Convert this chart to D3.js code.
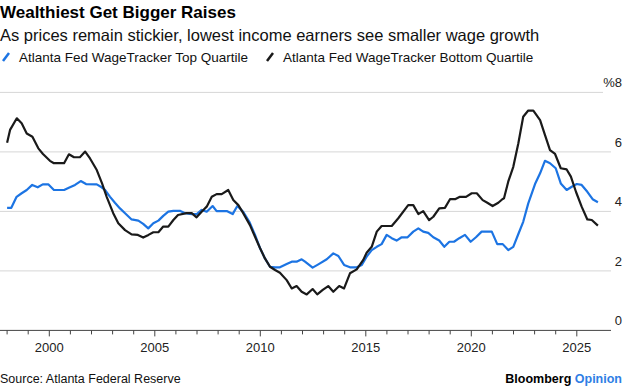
<!DOCTYPE html>
<html>
<head>
<meta charset="utf-8">
<script src="https://cdn.jsdelivr.net/npm/d3@7"></script>
<style>
    body { margin: 0; background: #fff; }
    svg { display: block; font-family: "Liberation Sans", Arial, sans-serif; }
</style>
</head>
<body>
<svg width="624" height="386"></svg>
<script>
// Atlanta Fed Wage Tracker (decimal years, %)
var topDates = [1998.0, 1998.2, 1998.45, 1998.69, 1998.93, 1999.19, 1999.45, 1999.69, 1999.95, 2000.22, 2000.7, 2000.98,
    2001.22, 2001.49, 2001.74, 2002.25, 2002.48, 2002.64, 2002.88, 2003.11, 2003.35, 2003.59, 2003.9, 2004.22, 2004.45,
    2004.69, 2004.93, 2005.17, 2005.4, 2005.64, 2005.88, 2006.19, 2006.43, 2006.75, 2006.99, 2007.22, 2007.46, 2007.74,
    2007.93, 2008.41, 2008.69, 2008.91, 2009.19, 2009.48, 2009.75, 2009.99, 2010.22, 2010.46, 2010.7, 2010.93, 2011.25,
    2011.49, 2011.72, 2011.96, 2012.12, 2012.48, 2012.75, 2013.15, 2013.46, 2013.7, 2013.97, 2014.25, 2014.57, 2014.81,
    2015.04, 2015.28, 2015.52, 2015.75, 2015.99, 2016.23, 2016.46, 2016.7, 2016.98, 2017.25, 2017.49, 2017.72, 2017.96,
    2018.2, 2018.48, 2018.72, 2018.96, 2019.18, 2019.43, 2019.7, 2019.97, 2020.22, 2020.49, 2020.97, 2021.23, 2021.49,
    2021.75, 2021.99, 2022.23, 2022.46, 2022.7, 2023.02, 2023.26, 2023.49, 2023.73, 2024.0, 2024.24, 2024.52, 2024.76,
    2025.0, 2025.23, 2025.5, 2025.75, 2026.0];
var topValues = [4.12, 4.12, 4.49, 4.61, 4.72, 4.89, 4.81, 4.91, 4.91, 4.72, 4.72, 4.81,
    4.89, 5.02, 4.92, 4.91, 4.81, 4.72, 4.49, 4.29, 4.10, 3.94, 3.73, 3.69, 3.58,
    3.43, 3.60, 3.69, 3.85, 3.99, 4.02, 4.02, 3.94, 3.91, 3.91, 4.05, 3.99, 4.18,
    4.01, 4.01, 3.91, 4.18, 3.99, 3.65, 3.21, 2.76, 2.42, 2.14, 2.12, 2.12, 2.23,
    2.31, 2.31, 2.39, 2.31, 2.11, 2.22, 2.39, 2.59, 2.50, 2.20, 2.12, 2.12, 2.20,
    2.48, 2.70, 2.81, 2.90, 3.21, 3.10, 3.02, 3.13, 3.13, 3.32, 3.43, 3.32, 3.28,
    3.13, 3.02, 2.81, 2.98, 2.98, 3.10, 3.21, 2.98, 3.13, 3.32, 3.32, 2.90, 2.90,
    2.70, 2.81, 3.24, 3.65, 4.27, 4.92, 5.28, 5.70, 5.62, 5.45, 4.94, 4.72, 4.83,
    4.92, 4.89, 4.66, 4.41, 4.31];

var bottomDates = [1998.0, 1998.14, 1998.46, 1998.69, 1998.93, 1999.2, 1999.48, 1999.7, 2000.03, 2000.22, 2000.7, 2000.93,
    2001.17, 2001.45, 2001.7, 2001.93, 2002.25, 2002.5, 2002.72, 2003.03, 2003.27, 2003.59, 2003.9, 2004.2, 2004.45,
    2004.7, 2004.93, 2005.17, 2005.4, 2005.64, 2005.88, 2006.1, 2006.5, 2006.75, 2006.98, 2007.22, 2007.46, 2007.7,
    2007.93, 2008.17, 2008.48, 2008.72, 2008.96, 2009.19, 2009.51, 2009.75, 2009.99, 2010.22, 2010.46, 2010.7, 2010.93,
    2011.25, 2011.49, 2011.72, 2011.96, 2012.2, 2012.48, 2012.7, 2012.96, 2013.22, 2013.46, 2013.74, 2013.97, 2014.25,
    2014.57, 2014.88, 2015.04, 2015.28, 2015.52, 2015.75, 2016.23, 2016.54, 2017.01, 2017.25, 2017.49, 2017.72, 2018.0,
    2018.2, 2018.48, 2018.75, 2018.99, 2019.23, 2019.46, 2019.75, 2020.02, 2020.26, 2020.54, 2020.76, 2021.01, 2021.28,
    2021.47, 2021.55, 2021.75, 2021.99, 2022.23, 2022.46, 2022.7, 2022.94, 2023.26, 2023.49, 2023.73, 2023.97, 2024.24,
    2024.52, 2024.72, 2024.96, 2025.23, 2025.5, 2025.71, 2026.0];
var bottomValues = [6.31, 6.74, 7.13, 6.96, 6.62, 6.51, 6.12, 5.93, 5.70, 5.62, 5.62, 5.92,
    5.82, 5.82, 6.01, 5.78, 5.39, 4.94, 4.49, 3.94, 3.60, 3.37, 3.23, 3.21, 3.12,
    3.21, 3.30, 3.30, 3.49, 3.49, 3.71, 3.88, 3.94, 3.94, 3.80, 3.99, 4.16, 4.49,
    4.58, 4.58, 4.72, 4.38, 4.21, 3.94, 3.54, 3.15, 2.76, 2.42, 2.14, 2.03, 1.94,
    1.69, 1.41, 1.49, 1.30, 1.21, 1.39, 1.21, 1.36, 1.49, 1.30, 1.49, 1.41, 1.92,
    2.05, 2.37, 2.61, 2.81, 3.32, 3.51, 3.51, 3.77, 4.21, 4.21, 3.91, 4.01, 3.71,
    3.82, 4.10, 4.12, 4.41, 4.41, 4.49, 4.49, 4.61, 4.61, 4.38, 4.29, 4.18, 4.29,
    4.41, 4.44, 5.00, 5.50, 6.29, 7.18, 7.39, 7.39, 7.07, 6.57, 6.06, 5.93, 5.45,
    5.41, 5.17, 4.66, 4.16, 3.73, 3.71, 3.52];

var seriesNames = ['Atlanta Fed WageTracker Top Quartile', 'Atlanta Fed WageTracker Bottom Quartile'];
var yTicks = [0, 2, 4, 6, 8];
var xLabels = [2000, 2005, 2010, 2015, 2020, 2025];

var blue = '#1c74e3';
var black = '#1a1a1a';

var svg = d3.select('svg');

var x = d3.scaleLinear()
    .domain([1998, 2026])
    .range([7.1, 597.9]);

var y = d3.scaleLinear()
    .domain([0, 8])
    .range([330.4, 92.4]);

// titles
svg.append('text')
    .attr('x', 0)
    .attr('y', 18)
    .style('font-size', '17px')
    .style('font-weight', 'bold')
    .attr('fill', '#000')
    .text('Wealthiest Get Bigger Raises');

svg.append('text')
    .attr('x', 0)
    .attr('y', 41)
    .style('font-size', '16.5px')
    .attr('fill', '#111')
    .text('As prices remain stickier, lowest income earners see smaller wage growth');

// legend
var legendX = [2, 266];
var legend = svg.selectAll('.legend')
    .data(seriesNames)
    .enter().append('g')
    .attr('class', 'legend')
    .attr('transform', function (d, i) { return 'translate(' + legendX[i] + ',0)'; });

legend.append('line')
    .attr('x1', 1).attr('y1', 61)
    .attr('x2', 7).attr('y2', 53)
    .attr('stroke', function (d, i) { return i == 0 ? blue : black; })
    .attr('stroke-width', 2.5);

legend.append('text')
    .attr('x', 17)
    .attr('y', 62)
    .style('font-size', '13.5px')
    .attr('fill', '#111')
    .text(function (d) { return d; });

// gridlines and right labels
svg.selectAll('.grid')
    .data(yTicks.slice(1))
    .enter().append('line')
    .attr('class', 'grid')
    .attr('x1', 0)
    .attr('x2', function (d) { return d == 8 ? 603 : 611; })
    .attr('y1', function (d) { return y(d); })
    .attr('y2', function (d) { return y(d); })
    .attr('stroke', '#d6d6d6')
    .attr('stroke-width', 1);

svg.selectAll('.ylab')
    .data(yTicks)
    .enter().append('text')
    .attr('class', 'ylab')
    .attr('x', 622)
    .attr('y', function (d) { return y(d) - 5; })
    .style('font-size', '13px')
    .style('text-anchor', 'end')
    .attr('fill', '#222')
    .text(function (d) { return d == 8 ? '%8' : d; });

// bottom axis
var xAxis = svg.append('g')
    .attr('transform', 'translate(0,' + y(0) + ')');

xAxis.append('line')
    .attr('x1', 0).attr('x2', 611)
    .attr('stroke', '#444')
    .attr('stroke-width', 1);

xAxis.selectAll('.tick')
    .data(d3.range(1998, 2026))
    .enter().append('line')
    .attr('class', 'tick')
    .attr('x1', function (d) { return x(d); })
    .attr('x2', function (d) { return x(d); })
    .attr('y1', 0)
    .attr('y2', function (d) { return d % 5 == 0 ? 6 : 4; })
    .attr('stroke', '#444')
    .attr('stroke-width', 1);

xAxis.selectAll('.xlab')
    .data(xLabels)
    .enter().append('text')
    .attr('x', function (d) { return x(d); })
    .attr('y', 22)
    .style('font-size', '13px')
    .style('text-anchor', 'middle')
    .attr('fill', '#222')
    .text(function (d) { return d; });

// lines
var line = d3.line()
    .x(function (d) { return x(d[0]); })
    .y(function (d) { return y(d[1]); });

var series = [
    { color: blue, points: d3.zip(topDates, topValues) },
    { color: black, points: d3.zip(bottomDates, bottomValues) }
];

svg.selectAll('.series')
    .data(series)
    .enter().append('path')
    .attr('class', 'series')
    .attr('d', function (d) { return line(d.points); })
    .attr('fill', 'none')
    .attr('stroke', function (d) { return d.color; })
    .attr('stroke-width', 2.2)
    .attr('stroke-linejoin', 'round');

// footer
svg.append('text')
    .attr('x', 0)
    .attr('y', 383)
    .style('font-size', '12.5px')
    .attr('fill', '#111')
    .text('Source: Atlanta Federal Reserve');

var brand = svg.append('text')
    .attr('x', 622)
    .attr('y', 383)
    .style('font-size', '12.5px')
    .style('font-weight', 'bold')
    .style('text-anchor', 'end');
brand.append('tspan').attr('fill', '#000').text('Bloomberg ');
brand.append('tspan').attr('fill', '#2f7ee5').text('Opinion');
</script>
</body>
</html>
